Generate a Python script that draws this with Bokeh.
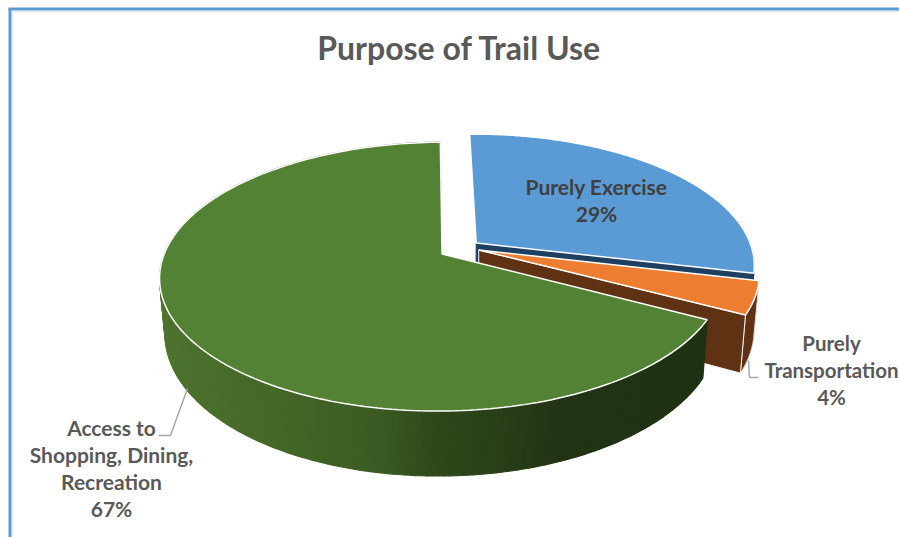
import numpy as np
from bokeh.plotting import figure
from bokeh.models import Range1d
from bokeh.core.properties import value
from bokeh.embed import file_html
from bokeh.resources import INLINE

# ---- data ----
categories = ["Purely Exercise", "Purely Transportation", "Access to Shopping, Dining, Recreation"]
shares = [29, 4, 67]
top_colors = ["#5b9bd5", "#ed7d31", "#548235"]
side_colors = ["#1f3f60", "#5f3213", "#33501f"]
label_lines = [["Purely Exercise", "29%"],
               ["Purely", "Transportation", "4%"],
               ["Access to", "Shopping, Dining,", "Recreation", "67%"]]
label_x = [596, 831, 111]
label_y = [186, 342, 427]
label_size = ["21px", "20.5px", "21px"]
label_color = ["#404040", "#595959", "#595959"]
title = "Purpose of Trail Use"

# ---- 3D pie geometry (page pixels) ----
CX, CY = 464.0, 247.0      # projected pie centre
RX, RY = 275.5, 128.5      # radii of the disk
K = 0.167                  # perspective strength
EXPLODE = [0.055, 0.055, 0.095]  # explosion of each slice, in radii
RIM_FROM = [80, None, None]      # back part of the blue rim is never visible
START = -1.2               # first slice start, degrees clockwise from top
H = 53.5                   # pie thickness
S = 0.982                  # horizontal shrink of the lower face


def proj(u, v, z=0.0):
    w = 1 - K * v
    sx = 1 - (1 - S) * z
    return CX + sx * RX * u / w, CY + (RY * v + H * z) / w


def ring(a0, a1, du, dv, n=120, z=0.0):
    t = np.radians(np.linspace(a0, a1, n))
    return proj(du + np.sin(t), dv - np.cos(t), z)


def lerp_hex(stops, x):
    xs = [s[0] for s in stops]
    rgb = np.array([[int(s[1][i:i + 2], 16) for i in (1, 3, 5)] for s in stops], float)
    c = [np.interp(x, xs, rgb[:, j]) for j in range(3)]
    return "#%02x%02x%02x" % tuple(int(round(v)) for v in c)


green_stops = [(160, "#4e7430"), (200, "#4a6e2c"), (300, "#426427"), (380, "#3a5a22"),
               (440, "#2e4719"), (500, "#283f18"), (560, "#223314"), (720, "#1f3213")]

p = figure(width=899, height=537, x_range=Range1d(0, 899), y_range=Range1d(537, 0),
           output_backend="svg", toolbar_location=None, min_border=0,
           background_fill_color="white", border_fill_color="white", outline_line_color=None)
p.axis.visible = False
p.grid.visible = False

fractions = np.array(shares, float) / sum(shares)
edges = START + 360 * np.concatenate([[0], np.cumsum(fractions)])

for i in range(3):
    a0, a1 = edges[i], edges[i + 1]
    mid = np.radians((a0 + a1) / 2)
    du, dv = EXPLODE[i] * np.sin(mid), -EXPLODE[i] * np.cos(mid)

    # outer rim
    if i == 2:
        ts = np.linspace(a0, a1, 241)
        xs, ys, cs = [], [], []
        for t0, t1 in zip(ts[:-1], ts[1:]):
            tx, ty = ring(t0, t1, du, dv, 2)
            bx, by = ring(t1, t0, du, dv, 2, z=1.0)
            xs.append(list(tx) + list(bx))
            ys.append(list(ty) + list(by))
            cs.append(lerp_hex(green_stops, float(np.mean(tx))))
        p.patches(xs, ys, fill_color=cs, line_color=cs, line_width=1.2)
    else:
        r0 = RIM_FROM[i] if RIM_FROM[i] is not None else a0
        tx, ty = ring(r0, a1, du, dv)
        bx, by = ring(a1, r0, du, dv, z=1.0)
        p.patch(np.r_[tx, bx], np.r_[ty, by], fill_color=side_colors[i],
                line_color="#d9d9d9" if i == 1 else side_colors[i], line_width=1)

    # radial wall at the end of the slice, facing the viewer
    if i < 2:
        ex, ey = ring(a1, a1, du, dv, 1)
        ax, ay = proj(du, dv)
        ebx, eby = ring(a1, a1, du, dv, 1, z=1.0)
        abx, aby = proj(du, dv, 1.0)
        p.patch([ax, ex[0], ebx[0], abx], [ay, ey[0], eby[0], aby],
                fill_color=side_colors[i], line_color="#f2f2f2" if i == 1 else side_colors[i],
                line_width=1)

    # top face
    tx, ty = ring(a0, a1, du, dv, 200)
    ax, ay = proj(du, dv)
    p.patch(np.r_[ax, tx], np.r_[ay, ty], fill_color=top_colors[i],
            line_color="white", line_width=1.5)

# leader lines
p.line([187, 170, 158], [388, 435, 435], line_color="#a6a6a6", line_width=1.5)
p.line([748, 749, 758], [360, 377, 377], line_color="#a6a6a6", line_width=1.5)

# data labels
for lines, lx, ly, col, fs in zip(label_lines, label_x, label_y, label_color, label_size):
    p.text([lx] * len(lines), [ly + 27 * j for j in range(len(lines))], text=lines,
           text_font=value("Lato"), text_font_style="bold", text_font_size=fs,
           text_color=col, text_align="center", text_baseline="middle")

# chart title
p.text([459], [47], text=[title], text_font=value("Lato"), text_font_style="bold",
       text_font_size="32px", text_color="#595959", text_align="center", text_baseline="middle")

# chart-area border (only its left and top edges are in the crop)
p.line([9.5, 9.5], [8, 537], line_color="#5b9bd5", line_width=3)
p.line([8, 899], [8.5, 8.5], line_color="#5b9bd5", line_width=3)
p.line([11.5, 11.5], [10, 537], line_color="#bdd7ee", line_width=1)
p.line([11, 899], [10.5, 10.5], line_color="#bdd7ee", line_width=1)

open("out.html", "w").write(file_html(p, INLINE))
